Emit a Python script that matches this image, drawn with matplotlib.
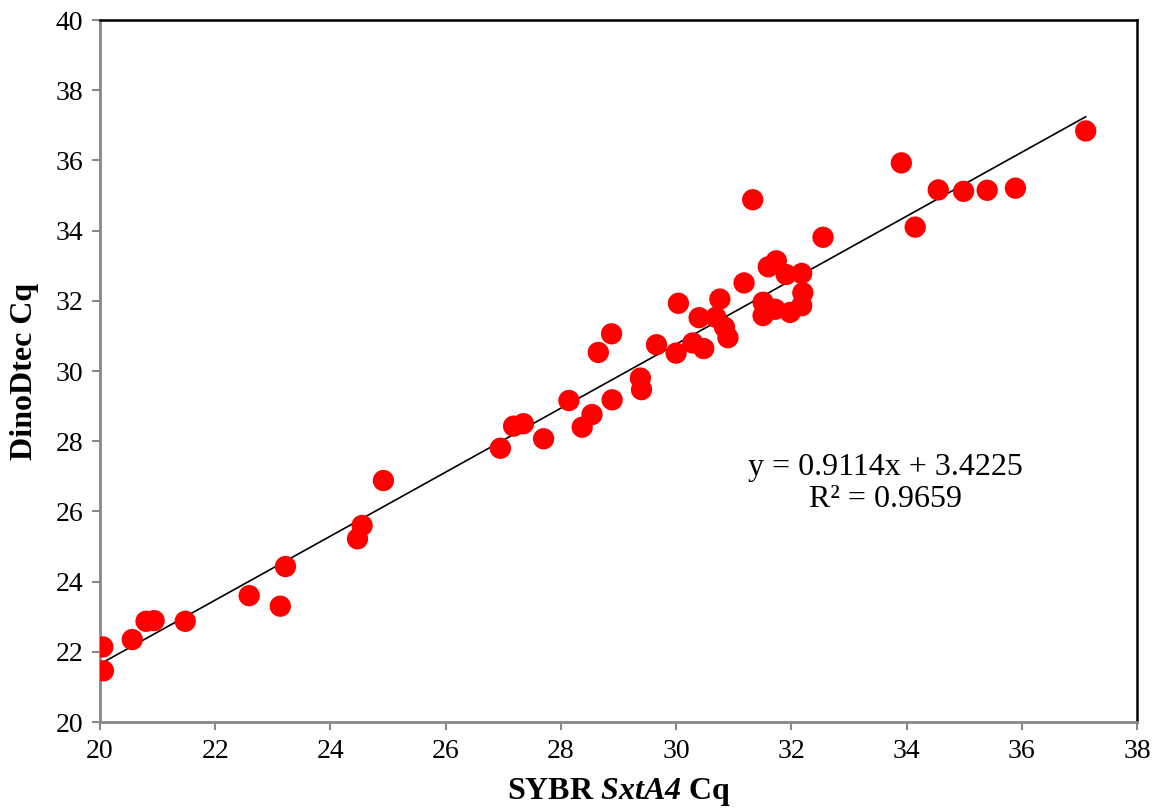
import matplotlib
matplotlib.use("Agg")
import matplotlib.pyplot as plt

plt.rcParams["font.family"] = ["Liberation Serif", "DejaVu Serif"]
plt.rcParams["mathtext.fontset"] = "custom"
plt.rcParams["mathtext.bfit"] = "Liberation Serif:italic:bold"

# Cq values: SYBR SxtA4 assay (x) vs DinoDtec assay (y)
sybr_cq = [
    20.05, 20.06, 20.56, 20.80, 20.94, 21.48, 22.59, 23.13, 23.22, 24.47,
    24.55, 24.92, 26.95, 27.18, 27.35, 27.70, 28.14, 28.37, 28.54, 28.89,
    28.65, 28.88, 29.38, 29.40, 29.66, 30.00, 30.04, 30.29, 30.48, 30.40,
    30.69, 30.76, 30.84, 30.90, 31.18, 31.33, 31.51, 31.51, 31.60, 31.74,
    31.72, 31.91, 31.98, 32.18, 32.20, 32.18, 32.55, 33.91, 34.55, 34.99,
    35.40, 35.89, 34.15, 37.11,
]
dinodtec_cq = [
    22.14, 21.46, 22.35, 22.87, 22.89, 22.87, 23.60, 23.30, 24.43, 25.22,
    25.60, 26.88, 27.80, 28.43, 28.50, 28.07, 29.16, 28.40, 28.76, 29.18,
    30.53, 31.06, 29.80, 29.47, 30.75, 30.51, 31.93, 30.80, 30.64, 31.52,
    31.53, 32.05, 31.25, 30.95, 32.51, 34.88, 31.96, 31.58, 32.97, 33.14,
    31.76, 32.75, 31.67, 32.78, 32.23, 31.86, 33.81, 35.93, 35.16, 35.12,
    35.15, 35.21, 34.10, 36.84,
]

slope = 0.9114
intercept = 3.4225
r_squared = 0.9659

fig = plt.figure(figsize=(11.57, 8.11), dpi=100)
ax = fig.add_axes([0.0864, 0.1097, 0.8963, 0.8656])

ax.scatter(sybr_cq, dinodtec_cq, s=235, color="#ff0000", edgecolors="none", zorder=3)

# linear trendline over the span of the data
x0, x1 = min(sybr_cq), max(sybr_cq)
ax.plot([x0, x1], [slope * x0 + intercept, slope * x1 + intercept],
        color="black", linewidth=1.2, zorder=2)

ax.text(33.63, 26.8, f"y = {slope}x + {intercept}\nR² = {r_squared}",
        ha="center", va="center", fontsize=23, linespacing=1.15)

ax.set_xlim(20, 38)
ax.set_ylim(20, 40)
ax.set_xticks(range(20, 39, 2))
ax.set_yticks(range(20, 41, 2))
ax.tick_params(direction="out", length=6, width=1.5, color="#888888",
               labelsize=20, pad=6)

for side in ("left", "bottom"):
    ax.spines[side].set_color("#888888")
    ax.spines[side].set_linewidth(2)
for side in ("top", "right"):
    ax.spines[side].set_color("black")
    ax.spines[side].set_linewidth(1.8)

ax.set_xlabel(r"SYBR $\mathbfit{SxtA4}$ Cq", fontsize=23, fontweight="bold", labelpad=9)
ax.set_ylabel("DinoDtec Cq", fontsize=23, fontweight="bold", labelpad=12)

fig.savefig("out.png", dpi=100, facecolor="white")
